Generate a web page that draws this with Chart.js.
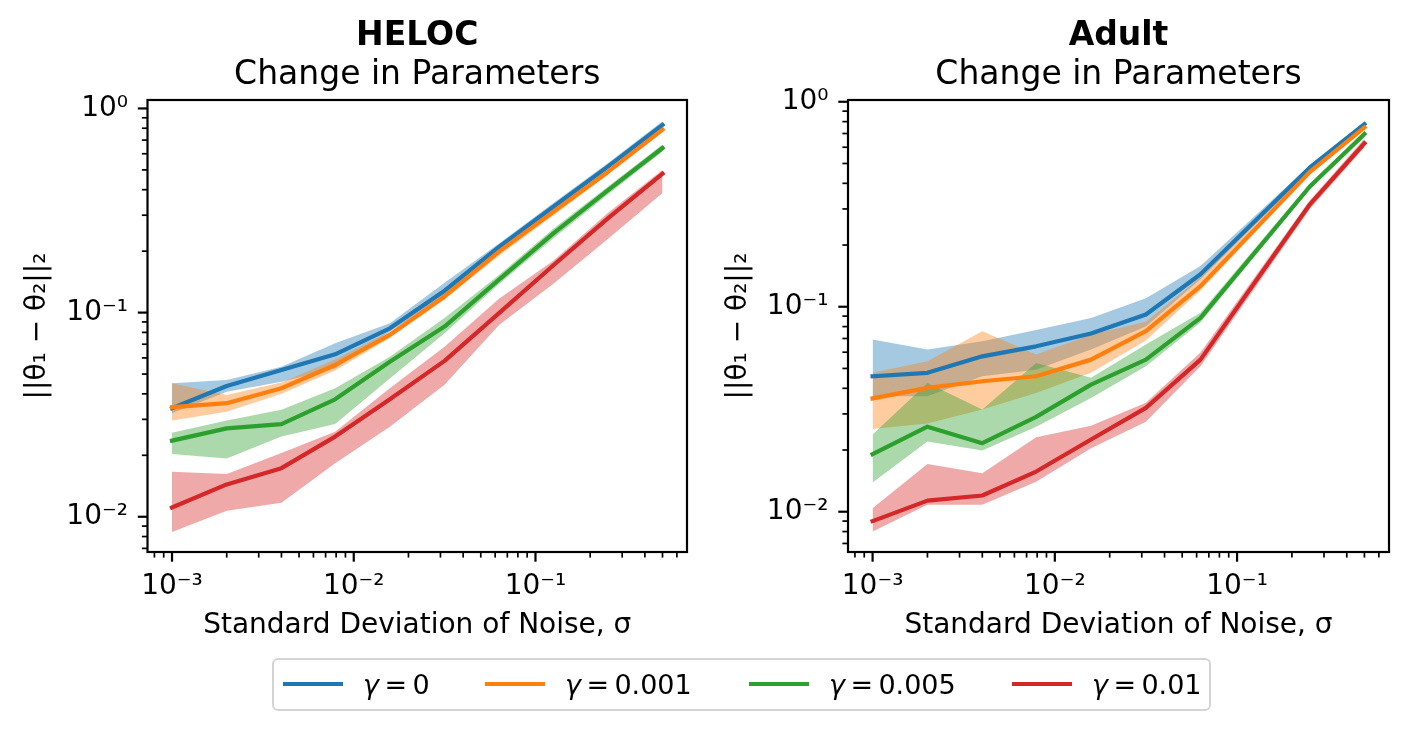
<!DOCTYPE html>
<html>
<head>
<meta charset="utf-8">
<title>Change in Parameters</title>
<script src="https://cdn.jsdelivr.net/npm/chart.js@4.4.1/dist/chart.umd.min.js"></script>
<style>
  html, body { margin: 0; padding: 0; background: #fff; }
  body { width: 1406px; height: 731px; position: relative; overflow: hidden; font-family: "DejaVu Sans", sans-serif; }
  canvas { position: absolute; top: 0; }
  #heloc { left: 0; }
  #adult { left: 703px; }
  #legend {
    position: absolute; left: 272px; top: 658px; width: 935px; height: 49px;
    border: 2px solid #d4d4d4; border-radius: 6px; background: #fff;
  }
  .key { position: absolute; height: 4px; top: 22px; width: 60px; }
  .txt { position: absolute; top: 0; line-height: 49px; font-size: 27px; color: #000; white-space: nowrap; }
</style>
</head>
<body>
<canvas id="heloc" width="703" height="660"></canvas>
<canvas id="adult" width="703" height="660"></canvas>
<div id="legend"></div>
<script>
// noise levels (x)
const sigma = [0.001, 0.002, 0.004, 0.0079, 0.0158, 0.0316, 0.063, 0.126, 0.251, 0.5];
const adultSigma = [0.001, 0.002, 0.004, 0.0079, 0.0158, 0.0316, 0.063, 0.251, 0.5];

const gammaLabels = ["γ = 0", "γ = 0.001", "γ = 0.005", "γ = 0.01"];
const colors = ["#1f77b4", "#ff7f0e", "#2ca02c", "#d62728"];
const bandColors = ["rgba(31,119,180,0.4)", "rgba(255,127,14,0.4)", "rgba(44,160,44,0.4)", "rgba(214,39,40,0.4)"];

// HELOC
const helocG0 = [0.034, 0.0437, 0.0524, 0.0625, 0.0838, 0.128, 0.21, 0.331, 0.52, 0.831];
const helocG0Lo = [0.0321, 0.041, 0.0459, 0.0533, 0.0807, 0.121, 0.202, 0.32, 0.505, 0.80];
const helocG0Hi = [0.0451, 0.0468, 0.0543, 0.0708, 0.0887, 0.140, 0.218, 0.345, 0.54, 0.865];
const helocG1 = [0.0344, 0.036, 0.0426, 0.0554, 0.0778, 0.120, 0.199, 0.313, 0.49, 0.787];
const helocG1Lo = [0.0296, 0.0327, 0.040, 0.052, 0.075, 0.116, 0.19, 0.30, 0.475, 0.765];
const helocG1Hi = [0.0451, 0.0395, 0.0454, 0.059, 0.0807, 0.125, 0.206, 0.325, 0.505, 0.81];
const helocG5 = [0.0236, 0.0271, 0.0284, 0.0376, 0.0575, 0.0854, 0.145, 0.245, 0.398, 0.640];
const helocG5Lo = [0.0203, 0.0193, 0.0247, 0.0285, 0.0476, 0.0792, 0.138, 0.232, 0.38, 0.615];
const helocG5Hi = [0.0258, 0.0296, 0.0334, 0.0426, 0.0608, 0.094, 0.153, 0.258, 0.415, 0.665];
const helocG10 = [0.0111, 0.0144, 0.0173, 0.0247, 0.0376, 0.058, 0.0994, 0.171, 0.29, 0.479];
const helocG10Lo = [0.00843, 0.0107, 0.0117, 0.0183, 0.0276, 0.0443, 0.087, 0.139, 0.23, 0.385];
const helocG10Hi = [0.0166, 0.0162, 0.0205, 0.0261, 0.0426, 0.0681, 0.117, 0.18, 0.308, 0.50];

// Adult
const adultG0 = [0.0458, 0.0476, 0.0573, 0.0641, 0.074, 0.0917, 0.144, 0.478, 0.778];
const adultG0Lo = [0.0366, 0.0366, 0.0458, 0.0493, 0.0618, 0.080, 0.136, 0.465, 0.75];
const adultG0Hi = [0.0692, 0.0618, 0.0679, 0.077, 0.088, 0.110, 0.158, 0.49, 0.80];
const adultG1 = [0.0357, 0.0402, 0.0433, 0.0458, 0.0552, 0.076, 0.126, 0.455, 0.75];
const adultG1Lo = [0.0253, 0.0269, 0.0315, 0.0379, 0.0476, 0.0684, 0.12, 0.44, 0.735];
const adultG1Hi = [0.0476, 0.0542, 0.076, 0.0585, 0.073, 0.0846, 0.139, 0.47, 0.77];
const adultG5 = [0.0191, 0.026, 0.0216, 0.029, 0.0417, 0.0552, 0.0883, 0.386, 0.697];
const adultG5Lo = [0.0139, 0.022, 0.0199, 0.026, 0.0359, 0.0513, 0.0838, 0.375, 0.67];
const adultG5Hi = [0.0238, 0.0425, 0.0315, 0.0532, 0.045, 0.0655, 0.0935, 0.40, 0.71];
const adultG10 = [0.0090, 0.01133, 0.0120, 0.0157, 0.0225, 0.0321, 0.0552, 0.316, 0.627];
const adultG10Lo = [0.0080, 0.0108, 0.0108, 0.0140, 0.0204, 0.0275, 0.0512, 0.30, 0.60];
const adultG10Hi = [0.0104, 0.0171, 0.0154, 0.0231, 0.0263, 0.034, 0.0598, 0.33, 0.66];

const supers = { "-": "⁻", "0": "⁰", "1": "¹", "2": "²", "3": "³", "4": "⁴" };
const FONT = "DejaVu Sans";

Chart.defaults.font.family = FONT;
Chart.defaults.color = "#000";

const pts = (xs, ys) => xs.map((x, i) => ({ x, y: ys[i] }));

// log ticks: majors at powers of ten, minors at 2..9
function logTicks(min, max) {
  const out = [];
  for (let e = -5; e <= 1; e++) {
    for (let k = 1; k <= 9; k++) {
      const v = k * Math.pow(10, e);
      if (v >= min * 0.9999 && v <= max * 1.0001) out.push({ value: v, major: k === 1 });
    }
  }
  return out;
}

function tickLabel(value) {
  const e = Math.round(Math.log10(value));
  const p = Math.pow(10, e);
  if (Math.abs(value - p) > 1e-9 * p) return "";
  return "10" + String(e).split("").map(c => supers[c]).join("");
}

const framePlugin = {
  id: "frame",
  afterDraw(chart) {
    const { ctx, chartArea: a, scales } = chart;
    ctx.save();
    ctx.strokeStyle = "#000";
    // tick marks, outward
    scales.x.ticks.forEach(t => {
      const px = scales.x.getPixelForValue(t.value);
      ctx.lineWidth = t.major ? 2.2 : 1.7;
      ctx.beginPath();
      ctx.moveTo(px, a.bottom);
      ctx.lineTo(px, a.bottom + (t.major ? 9.7 : 5.6));
      ctx.stroke();
    });
    scales.y.ticks.forEach(t => {
      const py = scales.y.getPixelForValue(t.value);
      ctx.lineWidth = t.major ? 2.2 : 1.7;
      ctx.beginPath();
      ctx.moveTo(a.left, py);
      ctx.lineTo(a.left - (t.major ? 9.7 : 5.6), py);
      ctx.stroke();
    });
    ctx.lineWidth = 2.2;
    ctx.strokeRect(a.left, a.top, a.right - a.left, a.bottom - a.top);
    ctx.restore();
  }
};

function makeChart(id, name, xs, series, yMin, yMax, yWidth, rightPad, yTitlePad) {
  const datasets = [];
  series.forEach((s, i) => {
    datasets.push({
      data: pts(xs, s[1]), borderColor: "rgba(0,0,0,0)", borderWidth: 0,
      pointRadius: 0, fill: false, order: 10 - i
    });
    datasets.push({
      data: pts(xs, s[2]), borderColor: "rgba(0,0,0,0)", borderWidth: 0,
      pointRadius: 0, fill: "-1", backgroundColor: bandColors[i], order: 10 - i
    });
  });
  series.forEach((s, i) => {
    datasets.push({
      label: gammaLabels[i], data: pts(xs, s[0]), borderColor: colors[i], borderWidth: 4.2,
      borderJoinStyle: "round", borderCapStyle: "square",
      pointRadius: 0, fill: false, tension: 0, order: -i
    });
  });

  return new Chart(document.getElementById(id), {
    type: "line",
    data: { datasets },
    plugins: [framePlugin],
    options: {
      responsive: false,
      animation: false,
      events: [],
      layout: { autoPadding: false, padding: { left: 0, right: rightPad, top: 0, bottom: 0 } },
      plugins: {
        legend: { display: false },
        tooltip: { enabled: false },
        title: {
          display: true, text: name, color: "#000", fullSize: false,
          font: { family: FONT, size: 33, weight: "bold", lineHeight: 1.1 },
          padding: { top: 18, bottom: 3 }
        },
        subtitle: {
          display: true, text: "Change in Parameters", color: "#000", fullSize: false,
          font: { family: FONT, size: 33, weight: "normal", lineHeight: 1.1 },
          padding: { top: 0, bottom: 6.4 }
        }
      },
      scales: {
        x: {
          type: "logarithmic",
          min: 0.000733, max: 0.682,
          afterBuildTicks: sc => { sc.ticks = logTicks(sc.min, sc.max); },
          afterFit: sc => { sc.height = 108; },
          grid: { display: true, drawOnChartArea: false, drawTicks: true, tickLength: 10, color: "rgba(0,0,0,0)" },
          border: { display: false },
          ticks: {
            autoSkip: false, maxRotation: 0, padding: 8,
            font: { family: FONT, size: 28 },
            callback: v => tickLabel(v)
          },
          title: {
            display: true, text: "Standard Deviation of Noise, σ",
            font: { family: FONT, size: 28 }, padding: { top: 0, bottom: 17 }
          }
        },
        y: {
          type: "logarithmic",
          min: yMin, max: yMax,
          afterBuildTicks: sc => { sc.ticks = logTicks(sc.min, sc.max); },
          afterFit: sc => { sc.width = yWidth; },
          grid: { display: true, drawOnChartArea: false, drawTicks: true, tickLength: 10, color: "rgba(0,0,0,0)" },
          border: { display: false },
          ticks: {
            autoSkip: false, padding: 9.5,
            font: { family: FONT, size: 28 },
            callback: v => tickLabel(v)
          },
          title: {
            display: true, text: "||θ₁ − θ₂||₂",
            font: { family: FONT, size: 28 }, padding: { top: yTitlePad, bottom: 0 }
          }
        }
      }
    }
  });
}

makeChart("heloc", "HELOC", sigma, [
  [helocG0, helocG0Lo, helocG0Hi],
  [helocG1, helocG1Lo, helocG1Hi],
  [helocG5, helocG5Lo, helocG5Hi],
  [helocG10, helocG10Lo, helocG10Hi]
], 0.00672, 1.10, 147.5, 16, 20.5);

makeChart("adult", "Adult", adultSigma, [
  [adultG0, adultG0Lo, adultG0Hi],
  [adultG1, adultG1Lo, adultG1Hi],
  [adultG5, adultG5Lo, adultG5Hi],
  [adultG10, adultG10Lo, adultG10Hi]
], 0.00636, 1.02, 145, 17, 18.5);

// shared legend below both panels
const keyX = [9, 211, 475, 738];
const legend = document.getElementById("legend");
gammaLabels.forEach((lab, i) => {
  const k = document.createElement("div");
  k.className = "key";
  k.style.left = keyX[i] + "px";
  k.style.background = colors[i];
  legend.appendChild(k);
  const t = document.createElement("div");
  t.className = "txt";
  t.style.left = (keyX[i] + 80) + "px";
  const [g, rest] = lab.split(" = ");
  t.innerHTML = "<i>" + g + "</i>\u2009=\u2009" + rest;
  legend.appendChild(t);
});
</script>
</body>
</html>
